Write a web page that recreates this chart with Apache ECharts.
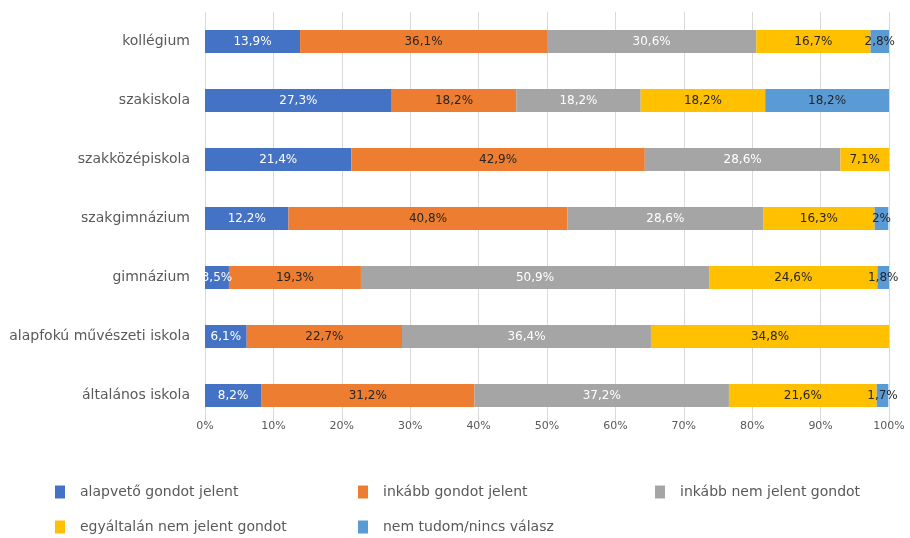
<!DOCTYPE html>
<html>
<head>
<meta charset="utf-8">
<script src="https://cdn.jsdelivr.net/npm/echarts@6/dist/echarts.min.js"></script>
<style>html,body{margin:0;padding:0;background:#fff}#c{width:910px;height:538px}</style>
</head>
<body>
<div id="c"></div>
<script>
const categories = ['kollégium','szakiskola','szakközépiskola','szakgimnázium','gimnázium','alapfokú művészeti iskola','általános iskola'];
const seriesNames = ['alapvető gondot jelent','inkább gondot jelent','inkább nem jelent gondot','egyáltalán nem jelent gondot','nem tudom/nincs válasz'];
const alapveto = [13.9, 27.3, 21.4, 12.2, 3.5, 6.1, 8.2];
const inkabbGond = [36.1, 18.2, 42.9, 40.8, 19.3, 22.7, 31.2];
const inkabbNem = [30.6, 18.2, 28.6, 28.6, 50.9, 36.4, 37.2];
const egyaltalan = [16.7, 18.2, 7.1, 16.3, 24.6, 34.8, 21.6];
const nemTudom = [2.8, 18.2, null, 2.0, 1.8, null, 1.7];
const xTicks = [0,10,20,30,40,50,60,70,80,90,100];

const colors = ['#4472C4','#ED7D31','#A5A5A5','#FFC000','#5B9BD5'];
const labelColors = ['#ffffff','#262626','#ffffff','#262626','#262626'];
const allData = [alapveto, inkabbGond, inkabbNem, egyaltalan, nemTudom];
const font = 'DejaVu Sans, sans-serif';

const chart = echarts.init(document.getElementById('c'), null, {renderer:'canvas'});
const series = seriesNames.map((n,i)=>({
  name:n, type:'bar', stack:'s', barWidth:23,
  data: allData[i],
  itemStyle:{color:colors[i]},
  label:{show:true, position:'inside', color:labelColors[i], fontSize:12, fontFamily:font,
    formatter:p=> p.value==null?'':(String(Math.abs(p.value).toFixed(p.value===2?0:1)).replace('.',','))+'%'},
  emphasis:{disabled:true}
}));
const legendPos = [[55,485],[358,485],[655,485],[55,520],[358,520]];
const legends = seriesNames.map((n,i)=>({
  data:[n], left:legendPos[i][0], top:legendPos[i][1], padding:0,
  itemWidth:10, itemHeight:13, icon:'rect', selectedMode:false,
  textStyle:{color:'#595959', fontSize:14, fontFamily:font, padding:[0,0,0,10]}
}));
chart.setOption({
  animation:false,
  color:colors,
  grid:{left:205, right:21, top:12, bottom:113, containLabel:false},
  xAxis:{type:'value', min:xTicks[0], max:xTicks[xTicks.length-1], interval:10,
    axisLabel:{formatter:v=>v+'%', color:'#595959', fontSize:11, fontFamily:font, margin:-4},
    splitLine:{lineStyle:{color:'#D9D9D9'}}, axisLine:{show:false}, axisTick:{show:false}},
  yAxis:{type:'category', data:categories, inverse:true,
    axisLabel:{color:'#595959', fontSize:14, fontFamily:font, margin:15},
    axisLine:{show:false}, axisTick:{show:false}},
  legend:legends,
  series:series
});
</script>
</body>
</html>
